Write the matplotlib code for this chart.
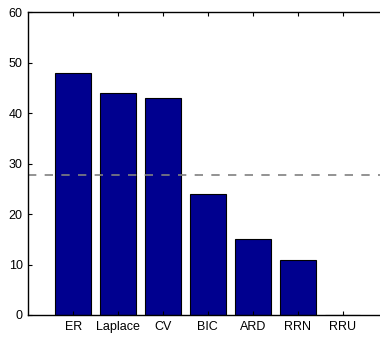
import matplotlib
matplotlib.use("Agg")
import matplotlib.pyplot as plt

# data
methods = ["ER", "Laplace", "CV", "BIC", "ARD", "RRN", "RRU"]
counts = [48, 44, 43, 24, 15, 11, 0]
ref_level = 27.8
y_ticks = [0, 10, 20, 30, 40, 50, 60]

plt.rcParams["font.family"] = ["Liberation Sans", "DejaVu Sans"]

fig = plt.figure(figsize=(3.8, 3.39), dpi=100)
ax = fig.add_axes([0.0745, 0.0708, 0.945, 0.8929])

positions = list(range(1, len(methods) + 1))

ax.bar(
    positions,
    counts,
    width=0.8,
    color="#00008f",
    edgecolor="black",
    linewidth=0.8
)

ax.axhline(
    ref_level,
    color="#808080",
    linestyle=(0, (5.0, 5.0)),
    linewidth=1.2
)

ax.set_xlim(0, 8)
ax.set_ylim(0, 60)

ax.set_xticks(positions)
ax.set_xticklabels(methods)
ax.set_yticks(y_ticks)

ax.tick_params(
    direction="in",
    length=3,
    width=0.8,
    labelsize=9,
    top=True,
    right=True,
    pad=4
)

for side in ax.spines.values():
    side.set_linewidth(1.0)

fig.savefig("out.png", dpi=100)
